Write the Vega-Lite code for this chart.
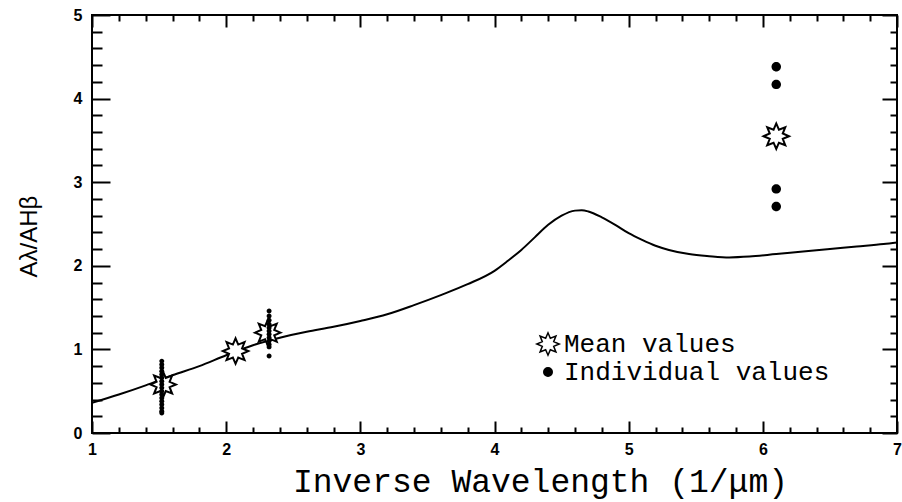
{
  "$schema": "https://vega.github.io/schema/vega-lite/v6.json",
  "width": 805,
  "height": 418,
  "autosize": {"type": "none"},
  "padding": {"left": 92, "top": 15, "right": 5, "bottom": 69},
  "background": "white",
  "config": {
    "view": {"stroke": "black", "strokeWidth": 2},
    "axis": {
      "domain": false,
      "grid": false,
      "tickColor": "black",
      "tickWidth": 2,
      "labelFont": "Liberation Sans",
      "labelFontWeight": "bold",
      "labelFontSize": 16,
      "labelColor": "black",
      "labelOverlap": false,
      "labelFlush": false,
      "titleColor": "black",
      "titleFontWeight": "normal"
    }
  },
  "datasets": {
    "curve": [
      {"x": 1.0, "y": 0.36}, {"x": 1.2, "y": 0.46}, {"x": 1.4, "y": 0.57}, {"x": 1.6, "y": 0.69},
      {"x": 1.8, "y": 0.8}, {"x": 2.0, "y": 0.93}, {"x": 2.2, "y": 1.05}, {"x": 2.4, "y": 1.14},
      {"x": 2.6, "y": 1.21}, {"x": 2.8, "y": 1.27}, {"x": 3.0, "y": 1.34}, {"x": 3.2, "y": 1.42},
      {"x": 3.4, "y": 1.53}, {"x": 3.6, "y": 1.65}, {"x": 3.8, "y": 1.78}, {"x": 4.0, "y": 1.94},
      {"x": 4.1, "y": 2.06}, {"x": 4.2, "y": 2.19}, {"x": 4.3, "y": 2.34}, {"x": 4.4, "y": 2.49},
      {"x": 4.5, "y": 2.6}, {"x": 4.6, "y": 2.66}, {"x": 4.65, "y": 2.665}, {"x": 4.7, "y": 2.65},
      {"x": 4.8, "y": 2.58}, {"x": 4.9, "y": 2.49}, {"x": 5.0, "y": 2.39}, {"x": 5.1, "y": 2.31},
      {"x": 5.2, "y": 2.24}, {"x": 5.3, "y": 2.19}, {"x": 5.45, "y": 2.14}, {"x": 5.6, "y": 2.115},
      {"x": 5.75, "y": 2.1}, {"x": 5.9, "y": 2.11}, {"x": 6.1, "y": 2.14}, {"x": 6.3, "y": 2.17},
      {"x": 6.5, "y": 2.2}, {"x": 6.7, "y": 2.23}, {"x": 6.9, "y": 2.26}, {"x": 7.0, "y": 2.28}
    ],
    "means": [
      {"x": 1.53, "y": 0.58, "type": "Mean values"},
      {"x": 2.07, "y": 0.98, "type": "Mean values"},
      {"x": 2.31, "y": 1.2, "type": "Mean values"},
      {"x": 6.1, "y": 3.55, "type": "Mean values"}
    ],
    "individual": [
      {"x": 1.52, "y": 0.86, "type": "Individual values"}, {"x": 1.52, "y": 0.82, "type": "Individual values"},
      {"x": 1.52, "y": 0.78, "type": "Individual values"}, {"x": 1.52, "y": 0.74, "type": "Individual values"},
      {"x": 1.52, "y": 0.7, "type": "Individual values"}, {"x": 1.52, "y": 0.66, "type": "Individual values"},
      {"x": 1.52, "y": 0.62, "type": "Individual values"}, {"x": 1.52, "y": 0.58, "type": "Individual values"},
      {"x": 1.52, "y": 0.54, "type": "Individual values"}, {"x": 1.52, "y": 0.5, "type": "Individual values"},
      {"x": 1.52, "y": 0.46, "type": "Individual values"}, {"x": 1.52, "y": 0.42, "type": "Individual values"},
      {"x": 1.52, "y": 0.38, "type": "Individual values"}, {"x": 1.52, "y": 0.34, "type": "Individual values"},
      {"x": 1.52, "y": 0.3, "type": "Individual values"}, {"x": 1.52, "y": 0.26, "type": "Individual values"},
      {"x": 1.52, "y": 0.24, "type": "Individual values"},
      {"x": 2.32, "y": 1.46, "type": "Individual values"}, {"x": 2.32, "y": 1.4, "type": "Individual values"},
      {"x": 2.32, "y": 1.35, "type": "Individual values"}, {"x": 2.32, "y": 1.3, "type": "Individual values"},
      {"x": 2.32, "y": 1.26, "type": "Individual values"}, {"x": 2.32, "y": 1.22, "type": "Individual values"},
      {"x": 2.32, "y": 1.18, "type": "Individual values"}, {"x": 2.32, "y": 1.14, "type": "Individual values"},
      {"x": 2.32, "y": 1.1, "type": "Individual values"}, {"x": 2.32, "y": 1.06, "type": "Individual values"},
      {"x": 2.32, "y": 1.03, "type": "Individual values"}, {"x": 2.32, "y": 0.92, "type": "Individual values"},
      {"x": 6.1, "y": 4.38, "type": "Individual values"}, {"x": 6.1, "y": 4.17, "type": "Individual values"},
      {"x": 6.1, "y": 2.92, "type": "Individual values"}, {"x": 6.1, "y": 2.71, "type": "Individual values"}
    ]
  },
  "resolve": {"axis": {"x": "independent", "y": "independent"}},
  "layer": [
    {
      "data": {"name": "curve"},
      "mark": {"type": "line", "color": "black", "strokeWidth": 2, "interpolate": "monotone", "clip": true},
      "encoding": {
        "x": {
          "field": "x", "type": "quantitative",
          "scale": {"domain": [1, 7], "nice": false, "zero": false},
          "axis": {
            "orient": "bottom",
            "values": [1,1.2,1.4,1.6,1.8,2,2.2,2.4,2.6,2.8,3,3.2,3.4,3.6,3.8,4,4.2,4.4,4.6,4.8,5,5.2,5.4,5.6,5.8,6,6.2,6.4,6.6,6.8,7],
            "tickSize": {"condition": {"test": "abs(datum.value - round(datum.value)) < 0.01", "value": -12}, "value": -6},
            "labelExpr": "abs(datum.value - round(datum.value)) < 0.01 ? format(datum.value, 'd') : ''",
            "labelFont": "Liberation Sans",
            "labelFontWeight": "bold",
            "labelFontSize": 16,
            "labelPadding": 20,
            "title": "Inverse Wavelength (1/μm)",
            "titleFont": "Liberation Mono",
            "titleFontSize": 33,
            "titleX": 448,
            "titlePadding": 2
          }
        },
        "y": {
          "field": "y", "type": "quantitative",
          "scale": {"domain": [0, 5], "nice": false},
          "axis": {
            "orient": "left",
            "values": [0,0.2,0.4,0.6,0.8,1,1.2,1.4,1.6,1.8,2,2.2,2.4,2.6,2.8,3,3.2,3.4,3.6,3.8,4,4.2,4.4,4.6,4.8,5],
            "tickSize": {"condition": {"test": "abs(datum.value - round(datum.value)) < 0.01", "value": -18}, "value": -10},
            "labelExpr": "abs(datum.value - round(datum.value)) < 0.01 ? format(datum.value, 'd') : ''",
            "labelFont": "Liberation Sans",
            "labelFontWeight": "bold",
            "labelFontSize": 16,
            "labelPadding": 28,
            "title": "Aλ/AHβ",
            "titleFont": "Liberation Sans",
            "titleFontSize": 24,
            "titlePadding": 32,
            "titleY": 221
          }
        }
      }
    },
    {
      "data": {"name": "means"},
      "mark": {"type": "point", "filled": false, "stroke": "black", "strokeWidth": 2, "opacity": 1, "size": 650},
      "encoding": {
        "x": {
          "field": "x", "type": "quantitative",
          "axis": {
            "orient": "top",
            "values": [1,1.2,1.4,1.6,1.8,2,2.2,2.4,2.6,2.8,3,3.2,3.4,3.6,3.8,4,4.2,4.4,4.6,4.8,5,5.2,5.4,5.6,5.8,6,6.2,6.4,6.6,6.8,7],
            "tickSize": {"condition": {"test": "abs(datum.value - round(datum.value)) < 0.01", "value": -12}, "value": -6},
            "labels": false,
            "title": null
          }
        },
        "y": {
          "field": "y", "type": "quantitative",
          "axis": {
            "orient": "right",
            "values": [0,0.2,0.4,0.6,0.8,1,1.2,1.4,1.6,1.8,2,2.2,2.4,2.6,2.8,3,3.2,3.4,3.6,3.8,4,4.2,4.4,4.6,4.8,5],
            "tickSize": {"condition": {"test": "abs(datum.value - round(datum.value)) < 0.01", "value": -15}, "value": -7},
            "labels": false,
            "title": null
          }
        },
        "shape": {
          "field": "type", "type": "nominal",
          "scale": {"domain": ["Mean values", "Individual values"], "range": ["M1,0L0.51,0.21L0.707,0.707L0.21,0.51L0,1L-0.21,0.51L-0.707,0.707L-0.51,0.21L-1,0L-0.51,-0.21L-0.707,-0.707L-0.21,-0.51L0,-1L0.21,-0.51L0.707,-0.707L0.51,-0.21Z", "M0.38,0A0.38,0.38,0,1,1,-0.38,0A0.38,0.38,0,1,1,0.38,0Z"]},
          "legend": {
            "orient": "none",
            "legendX": 443,
            "legendY": 316,
            "title": null,
            "padding": 0,
            "rowPadding": -14,
            "symbolSize": 500,
            "labelFont": "Liberation Mono",
            "labelFontSize": 26,
            "labelColor": "black",
            "labelOffset": 3,
            "labelLimit": 400,
            "encode": {
              "symbols": {
                "update": {
                  "strokeWidth": {"signal": "datum.value === 'Mean values' ? 2 : 0"},
                  "stroke": {"value": "black"},
                  "fill": {"signal": "datum.value === 'Mean values' ? 'white' : 'black'"},
                  "opacity": {"value": 1},
                  "fillOpacity": {"value": 1},
                  "strokeOpacity": {"value": 1}
                }
              }
            }
          }
        },
        "fill": {
          "field": "type", "type": "nominal",
          "scale": {"domain": ["Mean values", "Individual values"], "range": ["white", "black"]},
          "legend": null
        }
      }
    },
    {
      "data": {"name": "individual"},
      "transform": [{"filter": "datum.x < 5"}],
      "mark": {"type": "point", "filled": true, "opacity": 1, "size": 170, "strokeWidth": 0},
      "encoding": {
        "x": {"field": "x", "type": "quantitative", "axis": null},
        "y": {"field": "y", "type": "quantitative", "axis": null},
        "shape": {"field": "type", "type": "nominal"},
        "fill": {"field": "type", "type": "nominal"}
      }
    },
    {
      "data": {"name": "individual"},
      "transform": [{"filter": "datum.x > 5"}],
      "mark": {"type": "point", "filled": true, "opacity": 1, "size": 620, "strokeWidth": 0},
      "encoding": {
        "x": {"field": "x", "type": "quantitative", "axis": null},
        "y": {"field": "y", "type": "quantitative", "axis": null},
        "shape": {"field": "type", "type": "nominal"},
        "fill": {"field": "type", "type": "nominal"}
      }
    }
  ]
}
